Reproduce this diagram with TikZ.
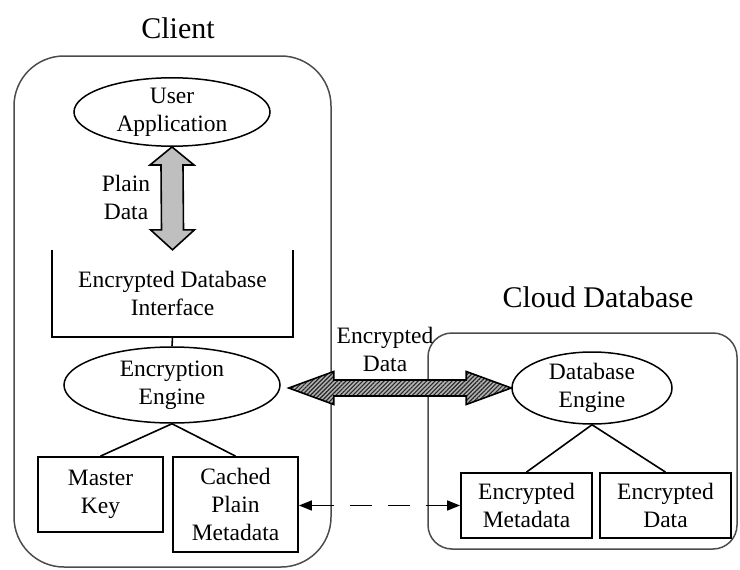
\documentclass[tikz,border=0pt]{standalone}
\usepackage{fontspec}
\setmainfont{Liberation Serif}
\usetikzlibrary{shapes.geometric,patterns.meta,arrows.meta,calc}

\tikzset{
  lbl/.style={font=\fontsize{23.5}{28}\selectfont, align=center},
  ttl/.style={font=\fontsize{30}{34}\selectfont},
  ell/.style={lbl, ellipse, draw, line width=1.5pt, inner sep=0pt},
  blk/.style={lbl, rectangle, draw, line width=1.8pt, inner sep=0pt},
  encl/.style={draw=black!70, line width=1.5pt},
  link/.style={line width=1.6pt},
  hatch/.style={draw, line width=1.6pt, preaction={fill=black!30},
    pattern={Lines[angle=45,distance=3pt,line width=1.1pt]}, pattern color=black!85}
}

\begin{document}
\begin{tikzpicture}[x=1pt,y=-1pt]
\useasboundingbox (0,0) rectangle (740,570);

\node[ttl] (client) at (178,28) {Client};
\node[ttl] (cloud) at (598,297) {Cloud Database};
\draw[encl, rounded corners=50pt] (14,56) rectangle (331,567);
\draw[encl, rounded corners=24pt] (428,333) rectangle (737,549);

\node[ell, minimum width=196, minimum height=64] (app) at (172,112) {User\\Application};
\node[lbl, minimum width=241, minimum height=87, inner sep=0pt] (iface) at (172.5,293.5) {Encrypted Database\\Interface};
\draw[link] (iface.north west) |- (iface.south east) -- (iface.north east);
\node[ell, minimum width=216, minimum height=76] (enc) at (172,385) {Encryption\\Engine};
\node[blk, minimum width=125, minimum height=75] (key) at (100.5,494.5) {Master\\Key};
\node[blk, minimum width=125, minimum height=95] (cache) at (235.5,504.5) {Cached\\Plain\\Metadata};

\node[ell, minimum width=160, minimum height=72] (db) at (592,388) {Database\\Engine};
\node[blk, minimum width=131, minimum height=65] (emeta) at (526.5,505.5) {Encrypted\\Metadata};
\node[blk, minimum width=131, minimum height=65] (edata) at (665.5,505.5) {Encrypted\\Data};

\node[lbl] (plain) at (126,197) {Plain\\Data};
\node[lbl] (encdata) at (385,349) {Encrypted\\Data};

\draw[link, fill=black!25] (app.south) -- ++(22,18) -- ++(-11,0) -- ($(iface.north)+(11,-20)$) -- ++(11,0)
  -- (iface.north) -- ++(-22,-20) -- ++(11,0) -- ($(app.south)+(-11,18)$) -- ++(-11,0) -- cycle;

\path ($(enc.east)+(8,0)$) coordinate (hl);
\draw[hatch] (hl |- db.west) -- ++(45,-16.5) -- ++(0,8.5) -- ($(db.west)+(-45,-8)$) -- ++(0,-8.5)
  -- (db.west) -- ++(-45,16.5) -- ++(0,-8.5) -- ($(hl |- db.west)+(45,8)$) -- ++(0,8.5) -- cycle;

\draw[link] (iface.south) -- (enc.north);
\draw[link] (enc.south) -- (key.north);
\draw[link] (enc.south) -- (cache.north);
\draw[link] (db.south) -- (emeta.north);
\draw[link] (db.south) -- (edata.north);

\draw[link, dash pattern=on 22pt off 16pt, {Triangle[length=13pt,width=10pt]}-{Triangle[length=13pt,width=10pt]}]
  (cache.east |- emeta.west) -- (emeta.west);

\end{tikzpicture}
\end{document}
